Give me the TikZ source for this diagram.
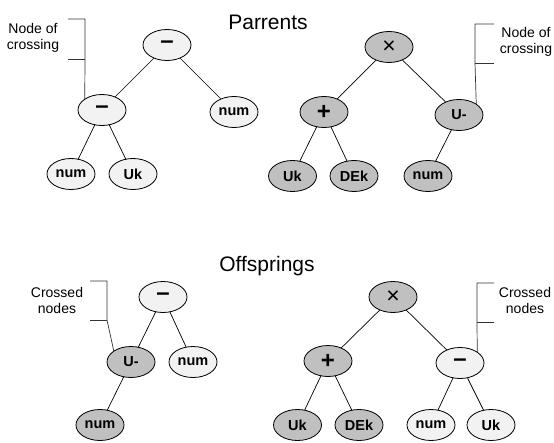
\documentclass[tikz,border=0pt]{standalone}
\usepackage{fontspec}
\setmainfont{Liberation Sans}
\usetikzlibrary{shapes.geometric}
\definecolor{lightfill}{HTML}{F2F2F2}
\definecolor{grayfill}{HTML}{C0C0C0}
\tikzset{
  tnode/.style={ellipse,draw=black,line width=0.8pt,minimum width=48pt,minimum height=31pt,inner sep=0pt,font=\fontsize{14.5}{16}\selectfont\bfseries},
  lnode/.style={tnode,fill=lightfill},
  gnode/.style={tnode,fill=grayfill},
  symb/.style={font=\fontsize{24}{24}\selectfont\bfseries},
  times/.style={font=\fontsize{23}{23}\selectfont},
  edge/.style={line width=0.7pt},
  brk/.style={line width=0.7pt,draw=black!80},
  note/.style={align=center,font=\fontsize{14}{16}\selectfont},
  title/.style={font=\fontsize{21}{22}\selectfont}
}
\begin{document}
\begin{tikzpicture}[x=1pt,y=-1pt]
\useasboundingbox (0,0) rectangle (554,442);
% Titles
\node[title] (t1) at (268,22) {Parrents};
\node[title] (t2) at (267,266) {Offsprings};

% Top-left tree
\node[lnode,symb] (r1) at (167,45) {–};
\node[lnode,symb] (a1) at (102,110) {–};
\node[lnode] (b1) at (234,112) {num};
\node[lnode] (c1) at (71,174) {num};
\node[lnode] (d1) at (133,174) {Uk};
\draw[edge] (r1) -- (a1);
\draw[edge] (r1) -- (b1);
\draw[edge] (a1) -- (c1);
\draw[edge] (a1) -- (d1);

% Top-right tree
\node[gnode,times] (r2) at (389,47) {×};
\node[gnode,symb] (a2) at (324,112) {+};
\node[gnode] (b2) at (459,115) {U-};
\node[gnode] (c2) at (292.5,176) {Uk};
\node[gnode] (d2) at (354,176) {DEk};
\node[gnode] (e2) at (428,176) {num};
\draw[edge] (r2) -- (a2);
\draw[edge] (r2) -- (b2);
\draw[edge] (a2) -- (c2);
\draw[edge] (a2) -- (d2);
\draw[edge] (b2) -- (e2);

% Bottom-left tree
\node[lnode,symb] (r3) at (163,297) {–};
\node[gnode] (a3) at (131,362) {U-};
\node[lnode] (b3) at (193,362) {num};
\node[gnode] (c3) at (100,425) {num};
\draw[edge] (r3) -- (a3);
\draw[edge] (r3) -- (b3);
\draw[edge] (a3) -- (c3);

% Bottom-right tree
\node[gnode,times] (r4) at (393,297) {×};
\node[gnode,symb] (a4) at (328,361) {+};
\node[lnode,symb] (b4) at (460,363) {–};
\node[gnode] (c4) at (297.5,425) {Uk};
\node[gnode] (d4) at (359,425) {DEk};
\node[lnode] (e4) at (431,425) {num};
\node[lnode] (f4) at (491,425) {Uk};
\draw[edge] (r4) -- (a4);
\draw[edge] (r4) -- (b4);
\draw[edge] (a4) -- (c4);
\draw[edge] (a4) -- (d4);
\draw[edge] (b4) -- (e4);
\draw[edge] (b4) -- (f4);

% Bracket notes
\node[note] (n1) at (33,38) {Node of\\crossing};
\coordinate (k1a) at (68,19);
\coordinate (k1b) at (85,19);
\coordinate (k1c) at (85,59);
\coordinate (k1d) at (68,59);
\draw[brk] (k1a) -- (k1b) -- (k1c) -- (a1.north west);
\draw[brk] (k1d) -- (k1c);

\node[note] (n2) at (526,42) {Node of\\crossing};
\coordinate (k2a) at (494,24);
\coordinate (k2b) at (475,24);
\coordinate (k2c) at (475,63);
\coordinate (k2d) at (494,63);
\draw[brk] (k2a) -- (k2b) -- (k2c) -- (b2.north east);
\draw[brk] (k2d) -- (k2c);

\node[note] (n3) at (57,300) {Crossed\\nodes};
\coordinate (k3a) at (90,281);
\coordinate (k3b) at (107,281);
\coordinate (k3c) at (107,320);
\coordinate (k3d) at (90,320);
\draw[brk] (k3a) -- (k3b) -- (k3c) -- (a3.north west);
\draw[brk] (k3d) -- (k3c);

\node[note] (n4) at (525,300) {Crossed\\nodes};
\coordinate (k4a) at (494,283);
\coordinate (k4b) at (477,283);
\coordinate (k4c) at (477,322);
\coordinate (k4d) at (494,322);
\draw[brk] (k4a) -- (k4b) -- (k4c) -- (b4.north east);
\draw[brk] (k4d) -- (k4c);
\end{tikzpicture}
\end{document}
